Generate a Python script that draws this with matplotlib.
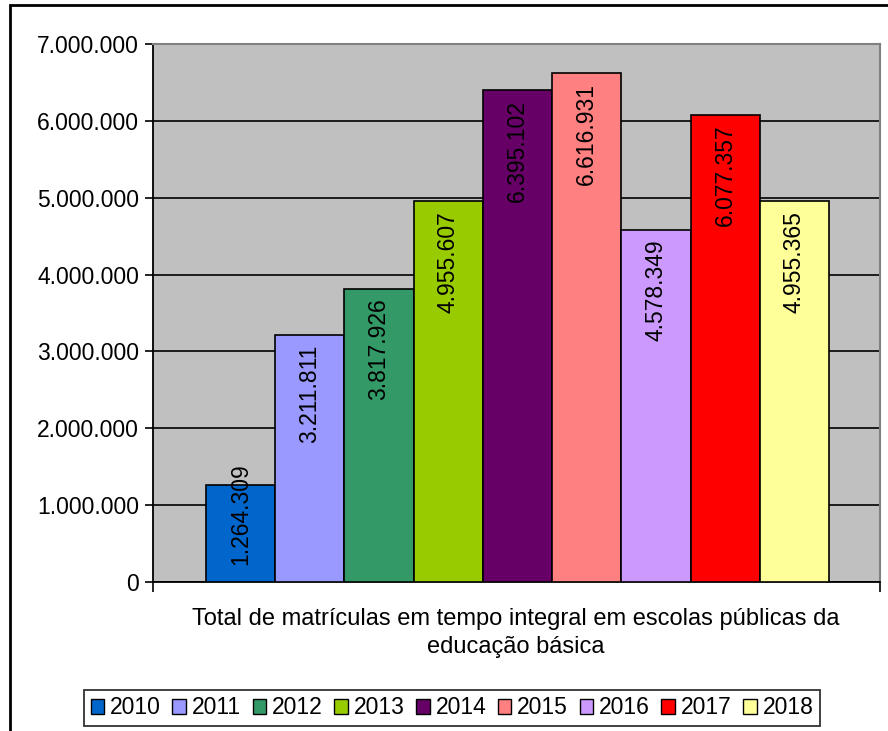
import matplotlib.pyplot as plt
from matplotlib.patches import Rectangle, Patch
from matplotlib.ticker import FuncFormatter

plt.rcParams['font.family'] = ['Liberation Sans', 'DejaVu Sans']

years = ['2010', '2011', '2012', '2013', '2014', '2015', '2016', '2017', '2018']
values = [1264309, 3211811, 3817926, 4955607, 6395102, 6616931, 4578349, 6077357, 4955365]
colors = ['#0066CC', '#9999FF', '#339966', '#99CC00', '#660066',
          '#FF8080', '#CC99FF', '#FF0000', '#FFFF99']
xlabel = 'Total de matrículas em tempo integral em escolas públicas da\neducação básica'

FS = 16.5


def fmt_br(v):
    return '{:,.0f}'.format(v).replace(',', '.')


fig = plt.figure(figsize=(8.88, 7.31), dpi=100)
W, H = 888, 731
ax = fig.add_axes([153 / W, 1 - 582 / H, (880 - 153) / W, (582 - 44) / H])
ax.set_facecolor('#C0C0C0')

# outer chart border (cropped at right/bottom in the original)
fig.patches.append(Rectangle((10 / W, -0.05), 1.1, 1 - 5 / H + 0.05,
                             transform=fig.transFigure, fill=False,
                             edgecolor='black', linewidth=2))

xs = list(range(len(years)))
ax.bar(xs, values, width=1.0, color=colors, edgecolor='black', linewidth=1.2, zorder=3)

ax.set_ylim(0, 7000000)
ax.set_xlim(-0.5 - 53 / 69.2, 8.5 + 51 / 69.2)
ax.set_yticks(range(0, 7000001, 1000000))
ax.yaxis.set_major_formatter(FuncFormatter(lambda v, p: fmt_br(v)))
ax.grid(axis='y', color='black', linewidth=1.2, zorder=1)
ax.set_axisbelow(True)
ax.tick_params(axis='y', direction='out', length=6, width=1.2, labelsize=FS, pad=4)
ax.set_xticks(ax.get_xlim())
ax.set_xticklabels(['', ''])
ax.tick_params(axis='x', direction='out', length=7, width=1.2)

for s in ['left', 'bottom']:
    ax.spines[s].set_color('black')
    ax.spines[s].set_linewidth(1.3)
for s in ['top', 'right']:
    ax.spines[s].set_color('#808080')
    ax.spines[s].set_linewidth(1.5)

for x, v in zip(xs, values):
    if v < 2000000:
        ax.annotate(fmt_br(v), (x, 0), xytext=(0, 12), textcoords='offset points',
                    rotation=90, ha='center', va='bottom', fontsize=FS, zorder=4)
    else:
        ax.annotate(fmt_br(v), (x, v), xytext=(0, -7), textcoords='offset points',
                    rotation=90, ha='center', va='top', fontsize=FS, zorder=4)

fig.text(516 / W, 1 - 633 / H, xlabel, ha='center', va='center', fontsize=17,
         linespacing=1.35)

handles = [Patch(facecolor=c, edgecolor='black', linewidth=1) for c in colors]
leg = fig.legend(handles, years, loc='center', bbox_to_anchor=(452 / W, 1 - 708 / H),
                 ncol=9, fontsize=FS, frameon=True, fancybox=False,
                 handlelength=0.6, handleheight=0.6, handletextpad=0.25,
                 columnspacing=0.5, borderpad=0.3, borderaxespad=0)
leg.get_frame().set_edgecolor('black')
leg.get_frame().set_linewidth(1.3)

fig.savefig('out.png', dpi=100)
